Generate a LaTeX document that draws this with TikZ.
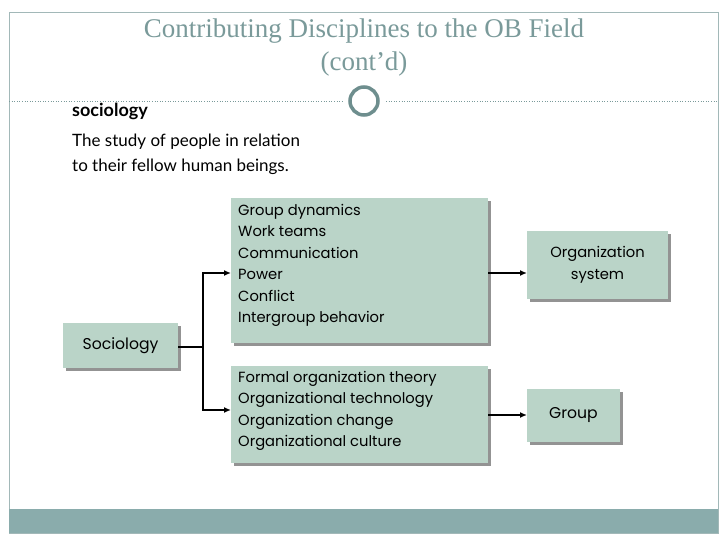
\documentclass[tikz,border=0pt]{standalone}
\usepackage{fontspec}
\setmainfont{Liberation Serif}
\newfontfamily\gill{Lato}
\newfontfamily\geo{Poppins}[Scale=0.92]
\usetikzlibrary{arrows.meta,shadows}
\definecolor{titlec}{HTML}{7A9A9A}
\definecolor{boxc}{HTML}{BAD4C8}
\definecolor{barc}{HTML}{8AACAC}
\definecolor{ringc}{HTML}{6E8E8E}
\begin{document}
\begin{tikzpicture}[x=1pt,y=-1pt,
  bx/.style={draw=none,fill=boxc,drop shadow={shadow xshift=3pt,shadow yshift=-3pt,fill=black!70,opacity=0.6}},
  tx/.style={font=\geo\fontsize{16}{21.5}\selectfont,align=left,anchor=north west,inner sep=0pt},
  arr/.style={line width=1.6pt,-{Latex[length=7pt,width=6pt]}},
  ln/.style={line width=1.6pt}]
\useasboundingbox (0,0) rectangle (728,546);
\fill[white] (0,0) rectangle (728,546);
\draw[titlec!70,line width=0.8pt] (9,12) rectangle (718,533);
\fill[barc] (9,509) rectangle (718,533);
\node[text=titlec,font=\fontsize{27}{33}\selectfont,align=center] (title) at (364,48) {Contributing Disciplines to the OB Field\\(cont’d)};
\draw[titlec,dotted,line width=0.6pt] (9,101) -- (342,101);
\draw[titlec,dotted,line width=0.6pt] (386,101) -- (718,101);
\draw[ringc,line width=3.5pt,fill=white] (364,101) circle (14);
\node[anchor=west,inner sep=0pt,font=\gill\bfseries\fontsize{18}{20}\selectfont] (soc) at (72,111) {sociology};
\node[anchor=north west,inner sep=0pt,align=left,font=\gill\fontsize{17}{25}\selectfont] (def) at (72,134) {The study of people in relation\\to their fellow human beings.};
% boxes
\path[bx] (231,198) rectangle (488,343);
\node[tx] (b1) at (238,204) {Group dynamics\\Work teams\\Communication\\Power\\Conflict\\Intergroup behavior};
\path[bx] (231,366) rectangle (488,463);
\node[tx] (b2) at (238,371) {Formal organization theory\\Organizational technology\\Organization change\\Organizational culture};
\path[bx] (63,323) rectangle (178,368);
\node[font=\geo\fontsize{17}{21}\selectfont] (s) at (120.5,345.5) {Sociology};
\path[bx] (527,231) rectangle (668,299);
\node[font=\geo\fontsize{16}{22}\selectfont,align=center] (o) at (597.5,265) {Organization\\system};
\path[bx] (527,389) rectangle (620,442);
\node[font=\geo\fontsize{17}{21}\selectfont] (g) at (573.5,415.5) {Group};
% connectors
\coordinate (j) at (203,347);
\draw[ln] (178,347) -- (j);
\draw[ln] (203,273) -- (203,410);
\draw[arr] (202.2,273) -- (231,273);
\draw[arr] (202.2,410) -- (231,410);
\draw[arr] (488,273) -- (527,273);
\draw[arr] (488,415) -- (527,415);
\end{tikzpicture}
\end{document}
